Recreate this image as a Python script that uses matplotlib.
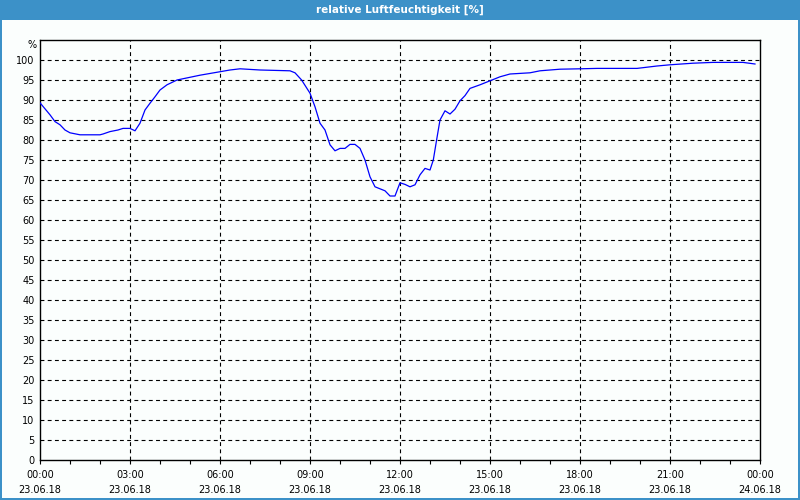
import matplotlib
matplotlib.use("Agg")
import matplotlib.pyplot as plt
from matplotlib.patches import Rectangle
from matplotlib.ticker import MultipleLocator

# --- data (hours since 23.06.18 00:00, relative humidity %) ---
hours = [0.0, 0.333, 0.5, 0.667, 0.833, 1.0, 1.333, 2.0, 2.1, 2.333, 2.6, 2.767,
         3.0, 3.167, 3.333, 3.5, 3.667, 3.833, 4.0, 4.233, 4.567, 5.333, 6.333,
         6.667, 7.333, 8.333, 8.5, 8.72, 9.0, 9.167, 9.333, 9.5, 9.667, 9.833,
         10.0, 10.167, 10.333, 10.5, 10.667, 10.833, 11.0, 11.167, 11.333, 11.5,
         11.667, 11.833, 12.0, 12.167, 12.333, 12.5, 12.667, 12.833, 13.0, 13.11,
         13.22, 13.333, 13.5, 13.667, 13.833, 14.0, 14.167, 14.333, 14.667, 15.0,
         15.333, 15.667, 16.333, 16.667, 17.333, 18.0, 18.567, 19.9, 20.567, 21.0,
         21.767, 22.433, 23.433, 23.833]
humidity = [89.3, 86.3, 84.6, 83.8, 82.5, 81.8, 81.3, 81.3, 81.5, 82.1, 82.5, 82.9,
            82.9, 82.3, 84.2, 87.5, 89.2, 90.8, 92.5, 93.8, 95.0, 96.2, 97.5,
            97.8, 97.5, 97.3, 96.8, 95.0, 91.7, 88.3, 84.2, 82.5, 78.8, 77.3,
            77.9, 77.9, 78.9, 78.9, 77.9, 75.0, 70.8, 68.3, 67.8, 67.3,
            66.0, 66.0, 69.3, 68.9, 68.3, 68.8, 71.3, 72.9, 72.5, 75.0,
            80.0, 85.0, 87.3, 86.5, 87.7, 89.8, 91.1, 92.9, 93.8, 94.8,
            95.8, 96.5, 96.8, 97.3, 97.7, 97.8, 97.9, 97.9, 98.5, 98.8,
            99.2, 99.4, 99.4, 99.0]

x_tick_hours = [0, 3, 6, 9, 12, 15, 18, 21, 24]
x_tick_labels = ["00:00\n23.06.18", "03:00\n23.06.18", "06:00\n23.06.18",
                 "09:00\n23.06.18", "12:00\n23.06.18", "15:00\n23.06.18",
                 "18:00\n23.06.18", "21:00\n23.06.18", "00:00\n24.06.18"]
title = "relative Luftfeuchtigkeit [%]"
unit = "%"

W, H = 800, 500
bg = "#FBFEFD"
bar = "#3C91C8"

fig = plt.figure(figsize=(W / 100, H / 100), dpi=100, facecolor=bg)

def fx(px):
    return px / W

def fy(py):
    return 1 - py / H

# title bar and borders
fig.patches.append(Rectangle((0, fy(20)), 1, 20 / H, transform=fig.transFigure,
                             facecolor=bar, edgecolor="none", zorder=0))
fig.patches.append(Rectangle((0, 0), 2 / W, 1, transform=fig.transFigure,
                             facecolor=bar, edgecolor="none", zorder=0))
fig.patches.append(Rectangle((1 - 2 / W, 0), 2 / W, 1, transform=fig.transFigure,
                             facecolor=bar, edgecolor="none", zorder=0))
fig.patches.append(Rectangle((0, 0), 1, 2 / H, transform=fig.transFigure,
                             facecolor=bar, edgecolor="none", zorder=0))
fig.text(0.5, fy(10), title, color="white", ha="center", va="center",
         fontsize=7.5, fontweight="bold")

ax = fig.add_axes([fx(40), fy(460), fx(720), 420 / H])
ax.set_facecolor(bg)
ax.plot(hours, humidity, color="#0000FF", lw=0.9, zorder=3)

ax.set_xlim(0, 24)
ax.set_ylim(0, 105)
ax.set_xticks(x_tick_hours)
ax.set_xticklabels(x_tick_labels, fontsize=7, linespacing=1.65)
ax.xaxis.set_minor_locator(MultipleLocator(1))
ax.set_yticks(range(0, 101, 5))
ax.set_yticklabels([str(v) for v in range(0, 101, 5)], fontsize=7)

ax.tick_params(axis="x", which="both", direction="out", length=3, width=0.8,
               pad=4, colors="black")
ax.tick_params(axis="y", which="both", length=0, pad=4)
for s in ax.spines.values():
    s.set_linewidth(1.0)
    s.set_color("black")

for v in range(5, 101, 5):
    ax.axhline(v, color="black", lw=0.8, ls=(0, (3.5, 3)), zorder=1)
for h in x_tick_hours[1:-1]:
    ax.axvline(h, color="black", lw=0.8, ls=(0, (3.5, 3)), zorder=1)

fig.text(fx(37), fy(45), unit, ha="right", va="center", fontsize=7)

fig.savefig("out.png", dpi=100, facecolor=bg)
